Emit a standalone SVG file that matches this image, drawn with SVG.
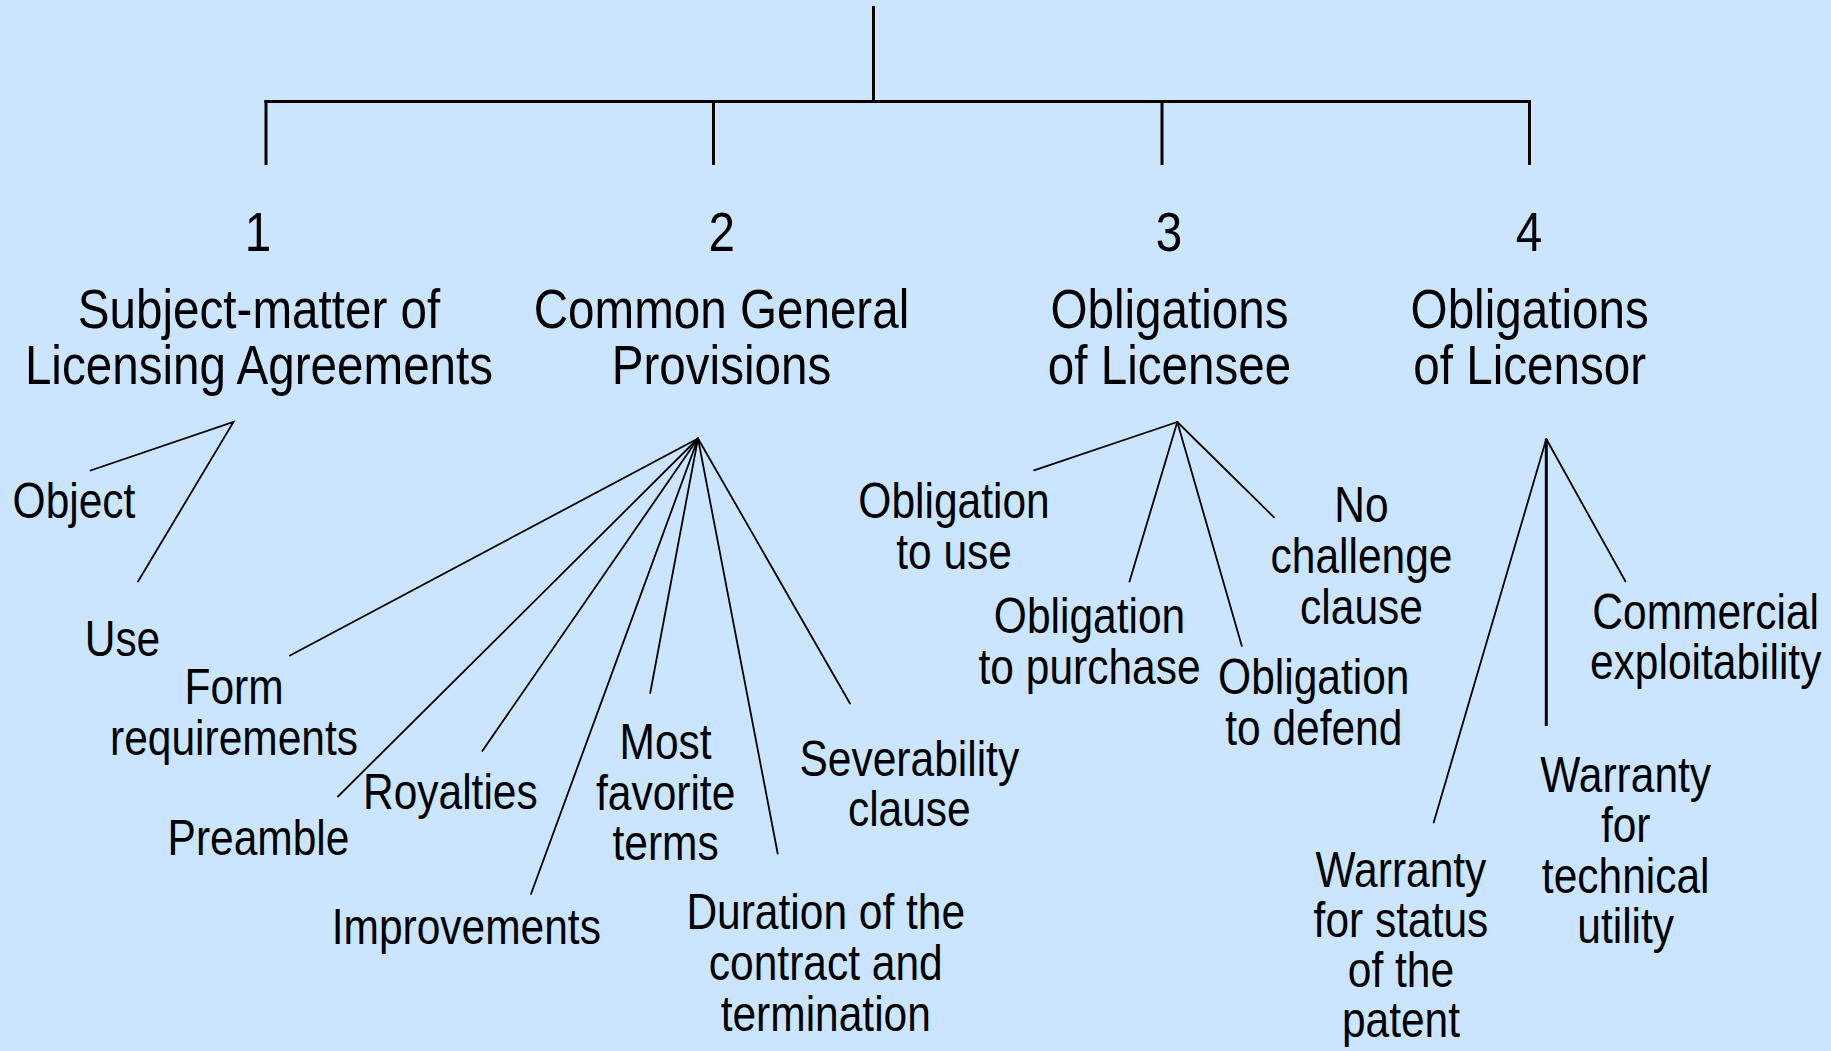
<svg xmlns="http://www.w3.org/2000/svg" width="1831" height="1051" viewBox="0 0 1831 1051">
<style>
.bg{fill:#cce5ff}
.bar{stroke:#000;stroke-width:3;fill:none}
.ln{stroke:#000;stroke-width:1.8;fill:none;stroke-linecap:round}
.t{font-family:"Liberation Sans",Arial,sans-serif;fill:#000;text-anchor:middle}
.big{font-size:56px}
.lbl{font-size:50px}
</style>
<rect class="bg" x="0" y="0" width="1831" height="1051"/>
<g id="connectors">
<line class="bar" x1="873.5" y1="6" x2="873.5" y2="101.5"/>
<line class="bar" x1="264.5" y1="101.5" x2="1531" y2="101.5"/>
<line class="bar" x1="266" y1="100" x2="266" y2="165"/>
<line class="bar" x1="713.5" y1="100" x2="713.5" y2="165"/>
<line class="bar" x1="1162" y1="100" x2="1162" y2="165"/>
<line class="bar" x1="1529.5" y1="100" x2="1529.5" y2="165"/>
<polyline class="ln" points="90.5,470.5 233.5,422 138,581.5"/>
<line class="ln" x1="698" y1="438.5" x2="290" y2="655.5"/>
<line class="ln" x1="698" y1="438.5" x2="338" y2="796.5"/>
<line class="ln" x1="698" y1="438.5" x2="482.3" y2="751"/>
<line class="ln" x1="698" y1="438.5" x2="531" y2="894"/>
<line class="ln" x1="698" y1="438.5" x2="650.2" y2="693"/>
<line class="ln" x1="698" y1="438.5" x2="777.7" y2="853.5"/>
<line class="ln" x1="698" y1="438.5" x2="850" y2="703.5"/>
<line class="ln" x1="1177.3" y1="422" x2="1034" y2="470.3"/>
<line class="ln" x1="1177.3" y1="422" x2="1129.5" y2="581.6"/>
<line class="ln" x1="1177.3" y1="422" x2="1241.8" y2="646"/>
<line class="ln" x1="1177.3" y1="422" x2="1274" y2="517.3"/>
<line class="ln" x1="1546.3" y1="439" x2="1433.7" y2="822.5"/>
<line class="bar" x1="1546.3" y1="439" x2="1546.3" y2="726"/>
<line class="ln" x1="1546.3" y1="439" x2="1625.5" y2="581.5"/>
</g>
<g transform="scale(0.85 1)">
<g id="n1"><text class="t big" x="303.5" y="251">1</text><text class="t big" x="304.7" y="328.5">Subject-matter of</text><text class="t big" x="304.7" y="384.5">Licensing Agreements</text></g>
<g id="n2"><text class="t big" x="849" y="251">2</text><text class="t big" x="848.8" y="328.5">Common General</text><text class="t big" x="848.8" y="384.5">Provisions</text></g>
<g id="n3"><text class="t big" x="1375.3" y="251">3</text><text class="t big" x="1375.9" y="328.5">Obligations</text><text class="t big" x="1375.9" y="384.5">of Licensee</text></g>
<g id="n4"><text class="t big" x="1798.8" y="251">4</text><text class="t big" x="1799.6" y="328.5">Obligations</text><text class="t big" x="1799.6" y="384.5">of Licensor</text></g>
<g id="object"><text class="t lbl" x="87.1" y="518">Object</text></g>
<g id="use"><text class="t lbl" x="144.1" y="656">Use</text></g>
<g id="form"><text class="t lbl" x="275.3" y="704">Form</text><text class="t lbl" x="275.3" y="755">requirements</text></g>
<g id="preamble"><text class="t lbl" x="304.1" y="855">Preamble</text></g>
<g id="royalties"><text class="t lbl" x="529.8" y="809">Royalties</text></g>
<g id="improvements"><text class="t lbl" x="548.6" y="944">Improvements</text></g>
<g id="mfn"><text class="t lbl" x="783.1" y="759">Most</text><text class="t lbl" x="783.1" y="810">favorite</text><text class="t lbl" x="783.1" y="860.5">terms</text></g>
<g id="duration"><text class="t lbl" x="971.5" y="929">Duration of the</text><text class="t lbl" x="971.5" y="980">contract and</text><text class="t lbl" x="971.5" y="1031">termination</text></g>
<g id="severability"><text class="t lbl" x="1069.8" y="776">Severability</text><text class="t lbl" x="1069.8" y="826">clause</text></g>
<g id="ob-use"><text class="t lbl" x="1122.4" y="518.5">Obligation</text><text class="t lbl" x="1122.4" y="569">to use</text></g>
<g id="ob-purchase"><text class="t lbl" x="1281.8" y="633.5">Obligation</text><text class="t lbl" x="1281.8" y="684">to purchase</text></g>
<g id="ob-defend"><text class="t lbl" x="1545.6" y="694">Obligation</text><text class="t lbl" x="1545.6" y="745">to defend</text></g>
<g id="no-challenge"><text class="t lbl" x="1601.8" y="522">No</text><text class="t lbl" x="1601.8" y="573">challenge</text><text class="t lbl" x="1601.8" y="624">clause</text></g>
<g id="commercial"><text class="t lbl" x="2006.7" y="629">Commercial</text><text class="t lbl" x="2006.7" y="679">exploitability</text></g>
<g id="warranty-tech"><text class="t lbl" x="1912.6" y="792">Warranty</text><text class="t lbl" x="1912.6" y="842">for</text><text class="t lbl" x="1912.6" y="893">technical</text><text class="t lbl" x="1912.6" y="943">utility</text></g>
<g id="warranty-status"><text class="t lbl" x="1648.2" y="887">Warranty</text><text class="t lbl" x="1648.2" y="937">for status</text><text class="t lbl" x="1648.2" y="987">of the</text><text class="t lbl" x="1648.2" y="1037">patent</text></g>
</g>
</svg>
